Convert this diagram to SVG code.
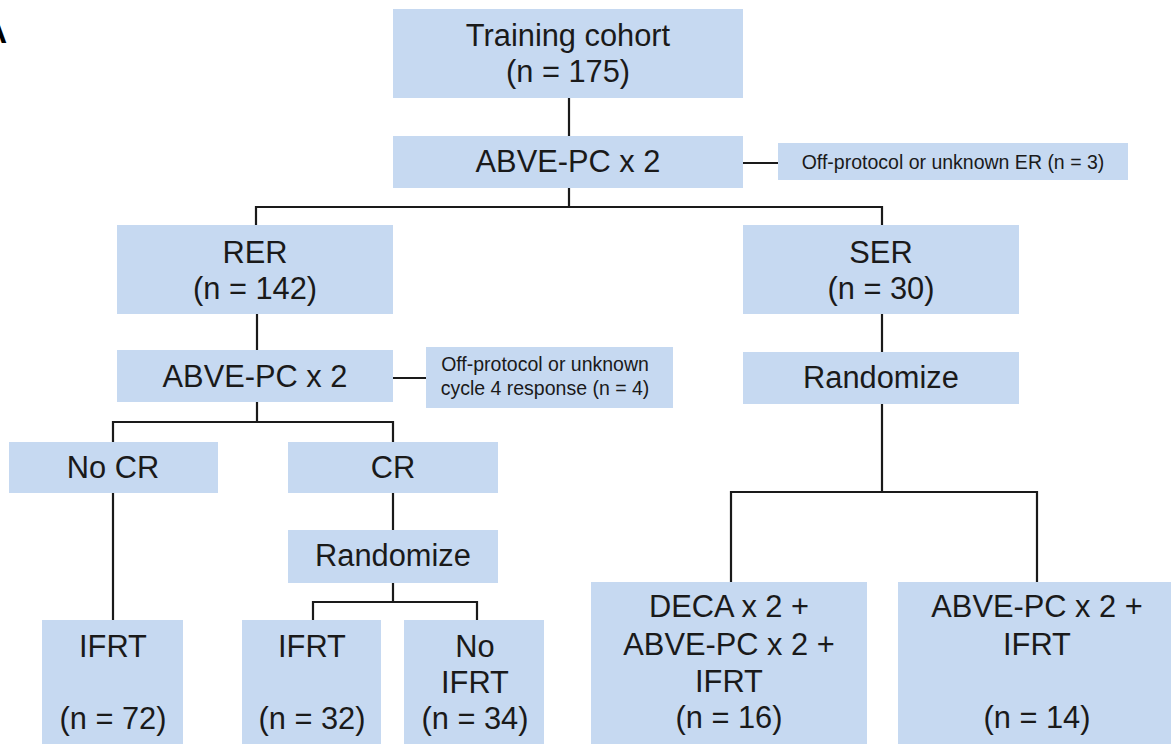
<svg xmlns="http://www.w3.org/2000/svg" width="1171" height="744" viewBox="0 0 1171 744">
<style>
.box{fill:#c6d9f1;}
.t{font-family:"Liberation Sans",Arial,sans-serif;font-size:30.8px;fill:#1a1a1a;text-anchor:middle;}
.s{font-family:"Liberation Sans",Arial,sans-serif;font-size:19.5px;fill:#1a1a1a;text-anchor:middle;}
.c{fill:none;stroke:#1a1a1a;stroke-width:2.2;}
</style>
<rect width="1171" height="744" fill="#ffffff"/>
<text x="-16" y="43" font-family="Liberation Sans,Arial,sans-serif" font-weight="bold" font-size="32" fill="#000">A</text>
<g id="connectors">
<path class="c" d="M569 98V136"/>
<path class="c" d="M569 188V207M256 225V207H882V225"/>
<path class="c" d="M743 163H778"/>
<path class="c" d="M257 313V350"/>
<path class="c" d="M393 378H426"/>
<path class="c" d="M257 402V422M113 442V422H393V442"/>
<path class="c" d="M113 493V620"/>
<path class="c" d="M393 493V530"/>
<path class="c" d="M393 583V602M313 620V602H477V620"/>
<path class="c" d="M882 314V352"/>
<path class="c" d="M882 404V492M731 582V492H1037V582"/>
</g>
<g id="n_training"><rect class="box" x="393" y="9" width="350" height="89"/><text class="t" x="568" y="46">Training cohort</text><text class="t" x="568" y="82">(n = 175)</text></g>
<g id="n_abve1"><rect class="box" x="393" y="136" width="350" height="52"/><text class="t" x="568" y="172">ABVE-PC x 2</text></g>
<g id="n_off1"><rect class="box" x="778" y="143" width="350" height="37"/><text class="s" x="953" y="169">Off-protocol or unknown ER (n = 3)</text></g>
<g id="n_rer"><rect class="box" x="117" y="225" width="276" height="89"/><text class="t" x="255" y="263">RER</text><text class="t" x="255" y="299">(n = 142)</text></g>
<g id="n_ser"><rect class="box" x="743" y="225" width="276" height="89"/><text class="t" x="881" y="263">SER</text><text class="t" x="881" y="299">(n = 30)</text></g>
<g id="n_abve2"><rect class="box" x="117" y="350" width="276" height="52"/><text class="t" x="255" y="387">ABVE-PC x 2</text></g>
<g id="n_off2"><rect class="box" x="426" y="347" width="247" height="61"/><text class="s" x="545" y="371">Off-protocol or unknown</text><text class="s" x="545" y="395">cycle 4 response (n = 4)</text></g>
<g id="n_rand_ser"><rect class="box" x="743" y="352" width="276" height="52"/><text class="t" x="881" y="388">Randomize</text></g>
<g id="n_nocr"><rect class="box" x="9" y="442" width="209" height="51"/><text class="t" x="113" y="478">No CR</text></g>
<g id="n_cr"><rect class="box" x="288" y="442" width="210" height="51"/><text class="t" x="393" y="478">CR</text></g>
<g id="n_rand_cr"><rect class="box" x="288" y="530" width="210" height="53"/><text class="t" x="393" y="566">Randomize</text></g>
<g id="n_ifrt1"><rect class="box" x="42" y="620" width="141" height="124"/><text class="t" x="113" y="657">IFRT</text><text class="t" x="113" y="729">(n = 72)</text></g>
<g id="n_ifrt2"><rect class="box" x="242" y="620" width="139" height="124"/><text class="t" x="312" y="657">IFRT</text><text class="t" x="312" y="729">(n = 32)</text></g>
<g id="n_noifrt"><rect class="box" x="404" y="620" width="140" height="124"/><text class="t" x="475" y="657">No</text><text class="t" x="475" y="693">IFRT</text><text class="t" x="475" y="729">(n = 34)</text></g>
<g id="n_deca"><rect class="box" x="591" y="582" width="276" height="162"/><text class="t" x="729" y="617">DECA x 2 +</text><text class="t" x="729" y="655">ABVE-PC x 2 +</text><text class="t" x="729" y="692">IFRT</text><text class="t" x="729" y="728">(n = 16)</text></g>
<g id="n_abve3"><rect class="box" x="898" y="582" width="273" height="162"/><text class="t" x="1037" y="617">ABVE-PC x 2 +</text><text class="t" x="1037" y="655">IFRT</text><text class="t" x="1037" y="728">(n = 14)</text></g>
</svg>
